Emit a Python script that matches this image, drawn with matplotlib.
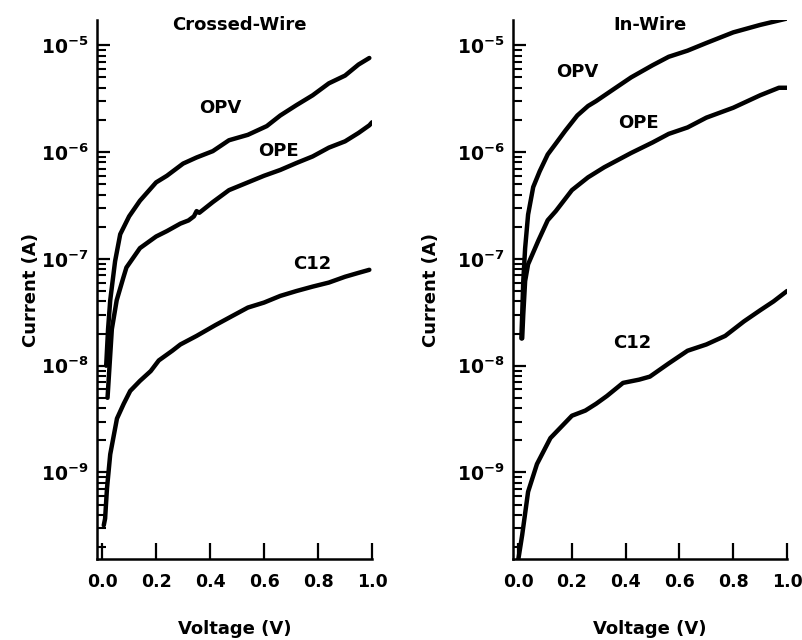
import matplotlib
matplotlib.use('Agg')
import matplotlib.pyplot as plt
from matplotlib.ticker import FixedLocator, LogLocator, NullFormatter

plt.rcParams['font.family'] = 'DejaVu Sans'
plt.rcParams['font.weight'] = 'bold'
plt.rcParams['mathtext.fontset'] = 'dejavusans'
plt.rcParams['mathtext.default'] = 'bf'

# Crossed-Wire (left panel), voltage in V, current in A
cw_opv_v = [0.015, 0.022, 0.03, 0.048, 0.067, 0.10, 0.14, 0.20, 0.24, 0.30, 0.35,
            0.41, 0.47, 0.54, 0.61, 0.66, 0.72, 0.78, 0.84, 0.90, 0.95, 0.99]
cw_opv_i = [1.0e-8, 2.2e-8, 4.1e-8, 9.5e-8, 1.7e-7, 2.5e-7, 3.5e-7, 5.2e-7, 6.0e-7,
            7.8e-7, 8.9e-7, 1.02e-6, 1.29e-6, 1.45e-6, 1.75e-6, 2.2e-6, 2.75e-6,
            3.4e-6, 4.4e-6, 5.2e-6, 6.6e-6, 7.6e-6]

cw_ope_v = [0.02, 0.036, 0.054, 0.078, 0.09, 0.14, 0.20, 0.24, 0.29, 0.32, 0.34,
            0.35, 0.36, 0.41, 0.47, 0.54, 0.60, 0.66, 0.72, 0.78, 0.84, 0.90,
            0.95, 0.99, 1.0]
cw_ope_i = [5.0e-9, 2.2e-8, 4.1e-8, 6.6e-8, 8.3e-8, 1.26e-7, 1.62e-7, 1.82e-7,
            2.14e-7, 2.29e-7, 2.5e-7, 2.8e-7, 2.7e-7, 3.4e-7, 4.4e-7, 5.2e-7,
            6.0e-7, 6.8e-7, 7.9e-7, 9.1e-7, 1.10e-6, 1.26e-6, 1.51e-6, 1.78e-6,
            1.9e-6]

cw_c12_v = [0.006, 0.011, 0.018, 0.03, 0.055, 0.08, 0.104, 0.14, 0.18, 0.21, 0.26,
            0.29, 0.35, 0.42, 0.48, 0.54, 0.60, 0.66, 0.72, 0.78, 0.84, 0.90,
            0.95, 0.99]
cw_c12_i = [3.2e-10, 3.7e-10, 7.1e-10, 1.48e-9, 3.2e-9, 4.4e-9, 5.8e-9, 7.2e-9,
            8.9e-9, 1.12e-8, 1.38e-8, 1.58e-8, 1.9e-8, 2.4e-8, 2.9e-8, 3.5e-8,
            3.9e-8, 4.5e-8, 5.0e-8, 5.5e-8, 6.0e-8, 6.8e-8, 7.4e-8, 7.9e-8]

# In-Wire (right panel)
iw_opv_v = [0.012, 0.015, 0.019, 0.026, 0.037, 0.056, 0.08, 0.11, 0.14, 0.175,
            0.22, 0.26, 0.29, 0.35, 0.42, 0.50, 0.56, 0.63, 0.70, 0.80, 0.90, 1.0]
iw_opv_i = [1.8e-8, 3.0e-8, 6.2e-8, 1.26e-7, 2.6e-7, 4.7e-7, 6.6e-7, 9.5e-7,
            1.2e-6, 1.58e-6, 2.2e-6, 2.7e-6, 3.0e-6, 3.8e-6, 5.0e-6, 6.5e-6,
            7.8e-6, 8.9e-6, 1.05e-5, 1.32e-5, 1.55e-5, 1.78e-5]

iw_ope_v = [0.015, 0.019, 0.026, 0.037, 0.063, 0.075, 0.11, 0.14, 0.20, 0.26,
            0.32, 0.42, 0.50, 0.56, 0.63, 0.70, 0.80, 0.90, 0.97, 1.0]
iw_ope_i = [1.8e-8, 3.0e-8, 6.2e-8, 8.9e-8, 1.26e-7, 1.48e-7, 2.3e-7, 2.8e-7,
            4.4e-7, 5.8e-7, 7.2e-7, 9.8e-7, 1.23e-6, 1.48e-6, 1.70e-6, 2.1e-6,
            2.6e-6, 3.4e-6, 4.0e-6, 4.0e-6]

iw_c12_v = [0.0, 0.015, 0.037, 0.07, 0.12, 0.20, 0.25, 0.29, 0.33, 0.39, 0.45,
            0.49, 0.56, 0.63, 0.70, 0.77, 0.84, 0.90, 0.95, 1.0]
iw_c12_i = [1.5e-10, 2.6e-10, 6.6e-10, 1.2e-9, 2.1e-9, 3.4e-9, 3.8e-9, 4.4e-9,
            5.2e-9, 6.9e-9, 7.4e-9, 7.9e-9, 1.05e-8, 1.38e-8, 1.58e-8, 1.9e-8,
            2.6e-8, 3.3e-8, 4.0e-8, 5.0e-8]

x_ticks = [0.0, 0.2, 0.4, 0.6, 0.8, 1.0]
x_labels = ['0.0', '0.2', '0.4', '0.6', '0.8', '1.0']
y_ticks = [1e-9, 1e-8, 1e-7, 1e-6, 1e-5]
y_labels = [r'$10^{-9}$', r'$10^{-8}$', r'$10^{-7}$', r'$10^{-6}$', r'$10^{-5}$']

fig = plt.figure(figsize=(8.03, 6.40), dpi=100)
ax1 = fig.add_axes([0.1208, 0.1266, 0.3425, 0.842])
ax2 = fig.add_axes([0.6389, 0.1266, 0.3412, 0.842])

panels = [
    (ax1, 'Crossed-Wire',
     [(cw_opv_v, cw_opv_i), (cw_ope_v, cw_ope_i), (cw_c12_v, cw_c12_i)],
     [('OPV', 0.437, 2.6e-6), ('OPE', 0.652, 1.03e-6), ('C12', 0.778, 8.9e-8)],
     -0.207, 0.51),
    (ax2, 'In-Wire',
     [(iw_opv_v, iw_opv_i), (iw_ope_v, iw_ope_i), (iw_c12_v, iw_c12_i)],
     [('OPV', 0.22, 5.6e-6), ('OPE', 0.447, 1.86e-6), ('C12', 0.425, 1.62e-8)],
     -0.266, 0.49),
]

for ax, title, curves, labels, ylab_x, title_x in panels:
    for v, i in curves:
        ax.plot(v, i, color='black', lw=3.2, solid_capstyle='round', solid_joinstyle='round')
    ax.set_yscale('log')
    ax.set_xlim(-0.019, 1.0)
    ax.set_ylim(1.55e-10, 1.72e-5)

    for s in ['top', 'right']:
        ax.spines[s].set_visible(False)
    for s in ['left', 'bottom']:
        ax.spines[s].set_linewidth(1.8)

    ax.set_xticks(x_ticks)
    ax.set_xticklabels(x_labels, fontsize=12.5, fontweight='bold')
    ax.yaxis.set_major_locator(FixedLocator(y_ticks))
    ax.set_yticklabels(y_labels, fontsize=13.5)
    ax.yaxis.set_minor_locator(LogLocator(base=10, subs=[2, 3, 4, 5, 6, 7, 8, 9], numticks=20))
    ax.yaxis.set_minor_formatter(NullFormatter())
    ax.tick_params(axis='x', direction='in', length=11.5, width=1.6, pad=10)
    ax.tick_params(axis='y', which='major', direction='in', length=9.5, width=1.6, pad=6)
    ax.tick_params(axis='y', which='minor', direction='in', length=6.5, width=1.5)

    ax.set_xlabel('Voltage (V)', fontsize=13, fontweight='bold')
    ax.set_ylabel('Current (A)', fontsize=13, fontweight='bold')
    ax.xaxis.set_label_coords(0.5, -0.113)
    ax.yaxis.set_label_coords(ylab_x, 0.5)

    for name, lx, ly in labels:
        ax.text(lx, ly, name, fontsize=13, fontweight='bold', ha='center', va='center')
    ax.text(title_x, 1.54e-5, title, fontsize=13, fontweight='bold',
            ha='center', va='center', clip_on=False)

fig.savefig('out.png', dpi=100)
